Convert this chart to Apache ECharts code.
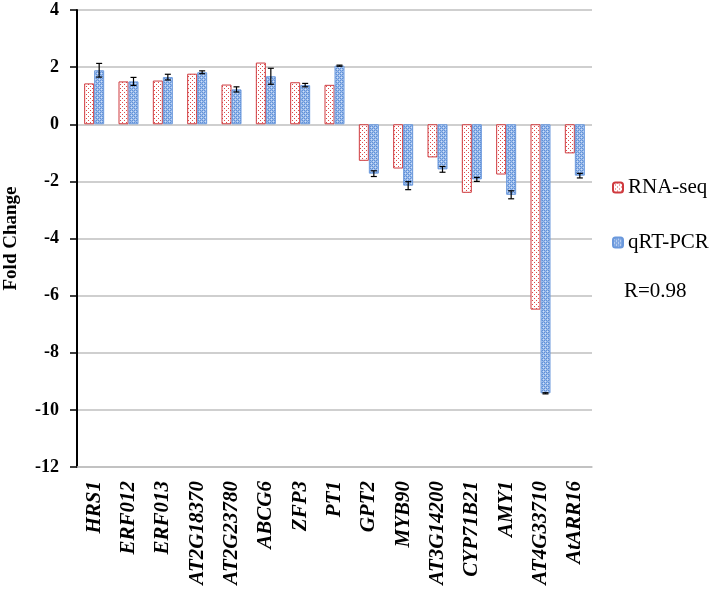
<!DOCTYPE html>
<html>
<head>
<meta charset="utf-8">
<script src="https://cdn.jsdelivr.net/npm/echarts@6/dist/echarts.min.js"></script>
<style>html,body{margin:0;padding:0;background:#fff}#c{width:716px;height:596px}</style>
</head>
<body>
<div id="c"></div>
<script>
var categories = ['HRS1','ERF012','ERF013','AT2G18370','AT2G23780','ABCG6','ZFP3','PT1','GPT2','MYB90','AT3G14200','CYP71B21','AMY1','AT4G33710','AtARR16'];
var rnaSeq = [1.43, 1.50, 1.53, 1.77, 1.39, 2.16, 1.47, 1.38, -1.28, -1.55, -1.16, -2.40, -1.76, -6.49, -1.02];
var qrtPcr = [1.89, 1.50, 1.65, 1.82, 1.22, 1.68, 1.37, 2.05, -1.73, -2.15, -1.58, -1.93, -2.47, -9.42, -1.80];
var qrtErr = [0.24, 0.14, 0.10, 0.05, 0.09, 0.28, 0.06, 0.02, 0.10, 0.14, 0.10, 0.07, 0.14, 0.02, 0.08];
var yTicks = [4, 2, 0, -2, -4, -6, -8, -10, -12];
var corrText = 'R=0.98';

function pattern(size, bg, pts) {
  var c = document.createElement('canvas');
  c.width = size; c.height = size;
  var g = c.getContext('2d');
  g.fillStyle = bg; g.fillRect(0, 0, size, size);
  pts.forEach(function (p) { g.fillStyle = p[2]; g.fillRect(p[0], p[1], 1, 1); });
  return c;
}
var redPat = pattern(4, '#ffffff', [[0,0,'#dd4a4a'],[2,2,'#dd4a4a']]);
var bluePat = pattern(4, '#9bbcec', [
  [0,0,'#5f8fd6'],[2,0,'#5f8fd6'],[1,1,'#cfdff6'],[3,1,'#7fa6e0'],
  [0,2,'#5f8fd6'],[2,2,'#5f8fd6'],[1,3,'#7fa6e0'],[3,3,'#cfdff6']
]);

var BW = 10;
var chart = echarts.init(document.getElementById('c'));
chart.setOption({
  animation: false,
  grid: { left: 77, top: 10, right: 124, bottom: 129, containLabel: false, outerBoundsMode: 'none' },
  legend: {
    orient: 'vertical', left: 607, top: 172, itemGap: 34,
    itemWidth: 10, itemHeight: 10,
    textStyle: { fontFamily: 'Liberation Serif', fontSize: 21, color: '#000' },
    data: ['RNA-seq', 'qRT-PCR']
  },
  graphic: [{
    type: 'text', left: 624, top: 281,
    style: { text: corrText, font: '21px "Liberation Serif"', fill: '#000' }
  }],
  xAxis: {
    type: 'category', data: categories, position: 'bottom',
    axisLine: { onZero: false, lineStyle: { color: '#bfbfbf', width: 1.5 } },
    axisTick: { show: false },
    axisLabel: {
      rotate: 90, interval: 0, margin: 14,
      fontFamily: 'Liberation Serif', fontWeight: 'bold', fontStyle: 'italic', fontSize: 21, color: '#000'
    }
  },
  yAxis: {
    type: 'value', min: -12, max: 4, interval: 2,
    name: 'Fold Change', nameLocation: 'middle', nameGap: 56,
    nameTextStyle: { fontFamily: 'Liberation Serif', fontWeight: 'bold', fontSize: 19, color: '#000' },
    axisLine: { show: true, lineStyle: { color: '#000', width: 2 } },
    axisTick: { show: true, length: 7, lineStyle: { color: '#000', width: 1.5 } },
    axisLabel: {
      margin: 18, fontFamily: 'Liberation Serif', fontWeight: 'bold', fontSize: 18, color: '#000',
      formatter: function (v) { return yTicks.indexOf(v) >= 0 ? String(v) : ''; }
    },
    splitLine: { lineStyle: { color: '#bfbfbf', width: 1.5 } }
  },
  series: [
    {
      name: 'RNA-seq', type: 'bar', data: rnaSeq, barWidth: BW, barGap: 0,
      itemStyle: { color: { image: redPat, repeat: 'repeat' }, borderColor: '#cf3a3e', borderWidth: 1 }
    },
    {
      name: 'qRT-PCR', type: 'bar', data: qrtPcr, barWidth: BW, barGap: 0,
      itemStyle: { color: { image: bluePat, repeat: 'repeat' }, borderColor: '#6a98dc', borderWidth: 1 }
    },
    {
      type: 'custom', name: 'err', z: 10, silent: true,
      data: qrtPcr.map(function (v, i) { return [i, v - qrtErr[i], v + qrtErr[i]]; }),
      renderItem: function (params, api) {
        var lo = api.coord([api.value(0), api.value(1)]);
        var hi = api.coord([api.value(0), api.value(2)]);
        var x = lo[0] + BW / 2, cap = 3;
        var st = { stroke: '#000', lineWidth: 1.2 };
        return { type: 'group', children: [
          { type: 'line', shape: { x1: x, y1: lo[1], x2: x, y2: hi[1] }, style: st },
          { type: 'line', shape: { x1: x - cap, y1: lo[1], x2: x + cap, y2: lo[1] }, style: st },
          { type: 'line', shape: { x1: x - cap, y1: hi[1], x2: x + cap, y2: hi[1] }, style: st }
        ]};
      }
    }
  ]
});
</script>
</body>
</html>
